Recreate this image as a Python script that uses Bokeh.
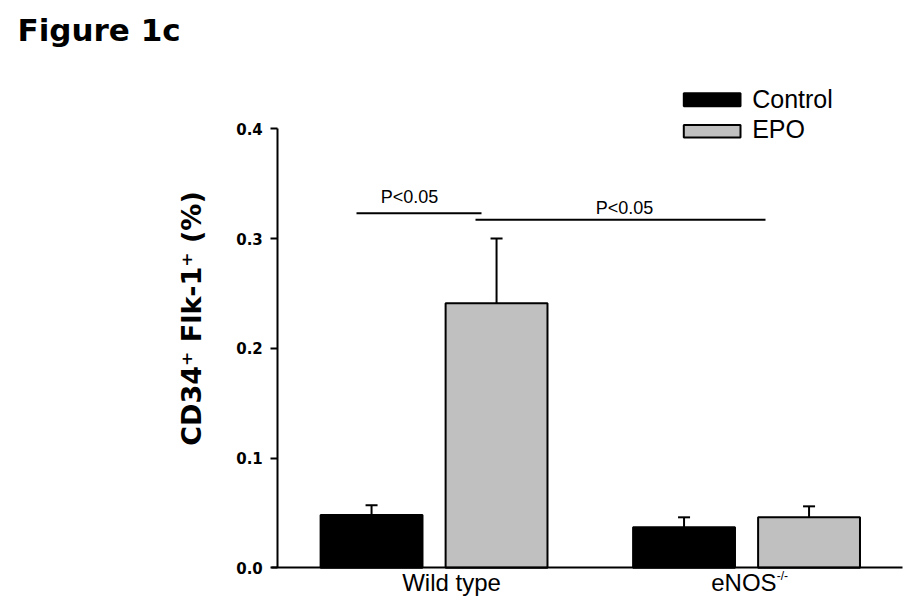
import math
from bokeh.plotting import figure
from bokeh.models import (Range1d, FixedTicker, Whisker, TeeHead, ColumnDataSource,
                          Label, NumeralTickFormatter)
from bokeh.embed import file_html
from bokeh.resources import INLINE

# ---- data ----
groups = ["Wild type", "eNOS"]
group_sup = ["", "-/-"]
group_pos = [0.5, 1.5]
series = ["Control", "EPO"]
series_colors = ["black", "#c0c0c0"]
control = [0.048, 0.037]
control_err = [0.009, 0.009]
epo = [0.241, 0.046]
epo_err = [0.059, 0.010]
y_ticks = [0.0, 0.1, 0.2, 0.3, 0.4]
sig_label = "P<0.05"

FONT = "Liberation Sans"
W, H = 915, 610
# screen layout: data (0,0) at pixel (277.3, 567.3); 312.5 px per x unit, 1097.5 px per y unit
X0, Y0, PXX, PXY = 277.3, 567.3, 312.5, 1097.5
def sx(px):
    return (px - X0) / PXX
def sy(py):
    return (Y0 - py) / PXY

# frame covers the whole canvas; axes drawn at fixed data locations
p = figure(width=W, height=H,
           x_range=Range1d(sx(0), sx(W)), y_range=Range1d(sy(H), sy(0)),
           output_backend="svg", toolbar_location=None,
           min_border=0, min_border_left=0, min_border_right=0,
           min_border_top=0, min_border_bottom=0)
p.outline_line_color = None
p.xgrid.visible = False
p.ygrid.visible = False
p.background_fill_color = "white"
p.border_fill_color = "white"

dodge = 0.2
bw = 0.326
src_c = ColumnDataSource(dict(x=[g - dodge for g in group_pos], top=control,
                              upper=[v + e for v, e in zip(control, control_err)]))
src_e = ColumnDataSource(dict(x=[g + dodge for g in group_pos], top=epo,
                              upper=[v + e for v, e in zip(epo, epo_err)]))

for src in (src_c, src_e):
    w = Whisker(base="x", upper="upper", lower="top", source=src, dimension="height",
                line_color="black", line_width=2, lower_head=None,
                upper_head=TeeHead(size=12, line_color="black", line_width=2))
    p.add_layout(w)

p.vbar(x="x", top="top", bottom=0, width=bw, source=src_c,
       fill_color=series_colors[0], line_color="black", line_width=2)
p.vbar(x="x", top="top", bottom=0, width=bw, source=src_e,
       fill_color=series_colors[1], line_color="black", line_width=2)

# significance brackets
p.segment(x0=[sx(356), sx(475)], y0=[sy(212.7), sy(219.3)],
          x1=[sx(481), sx(765)], y1=[sy(212.7), sy(219.3)],
          line_color="black", line_width=2)
for (tx, ty) in [(409, 196.5), (624, 207.5)]:
    p.add_layout(Label(x=sx(tx), y=sy(ty), text=sig_label, text_align="center",
                       text_baseline="middle", text_font=FONT, text_font_size="18px",
                       text_color="black"))

# title
p.add_layout(Label(x=sx(17), y=sy(29), text="Figure 1c", text_align="left",
                   text_baseline="middle", text_font="DejaVu Sans",
                   text_font_style="bold", text_font_size="31px", text_color="black"))

# legend (drawn manually)
sw_top = [92.7, 124.5]
sw_bot = [105.7, 137.0]
p.quad(left=[sx(683.3)] * 2, right=[sx(740)] * 2,
       top=[sy(t) for t in sw_top], bottom=[sy(b) for b in sw_bot],
       fill_color=series_colors, line_color="black", line_width=2)
for name, mid in zip(series, [98.0, 128.5]):
    p.add_layout(Label(x=sx(751.7), y=sy(mid), text=name, text_align="left",
                       text_baseline="middle", text_font=FONT,
                       text_font_size="25px", text_color="black"))

# x category labels
label_left = [401.7, 710.7]
for g, sup, lx in zip(groups, group_sup, label_left):
    p.add_layout(Label(x=sx(lx), y=sy(581.5), text=g, text_align="left",
                       text_baseline="middle", text_font=FONT,
                       text_font_size="24px", text_color="black"))
    if sup:
        p.add_layout(Label(x=sx(lx + 65.5), y=sy(575), text=sup, text_align="left",
                           text_baseline="middle", text_font=FONT,
                           text_font_size="12px", text_color="black"))

# y axis title
p.add_layout(Label(x=sx(191), y=sy(318), text="CD34\u207a Flk-1\u207a (%)",
                   angle=math.pi / 2, text_align="center", text_baseline="middle",
                   text_font="DejaVu Sans", text_font_style="bold",
                   text_font_size="27px", text_color="black"))

# axes
xa = p.xaxis[0]
xa.fixed_location = 0
xa.bounds = (-0.02, 2.0)
xa.ticker = FixedTicker(ticks=[])
xa.major_tick_line_color = None
xa.minor_tick_line_color = None
xa.major_label_text_font_size = "0px"
xa.axis_line_width = 2
xa.axis_line_color = "black"

ya = p.yaxis[0]
ya.fixed_location = 0
ya.bounds = (0, 0.4)
ya.ticker = FixedTicker(ticks=y_ticks)
ya.formatter = NumeralTickFormatter(format="0.0")
ya.axis_line_width = 2
ya.axis_line_color = "black"
ya.major_tick_line_width = 2
ya.major_tick_out = 7
ya.major_tick_in = 0
ya.minor_tick_line_color = None
ya.major_label_standoff = 8
ya.major_label_text_font = "DejaVu Sans"
ya.major_label_text_font_style = "bold"
ya.major_label_text_font_size = "15px"
ya.major_label_text_color = "black"

open("out.html", "w").write(file_html(p, INLINE))
